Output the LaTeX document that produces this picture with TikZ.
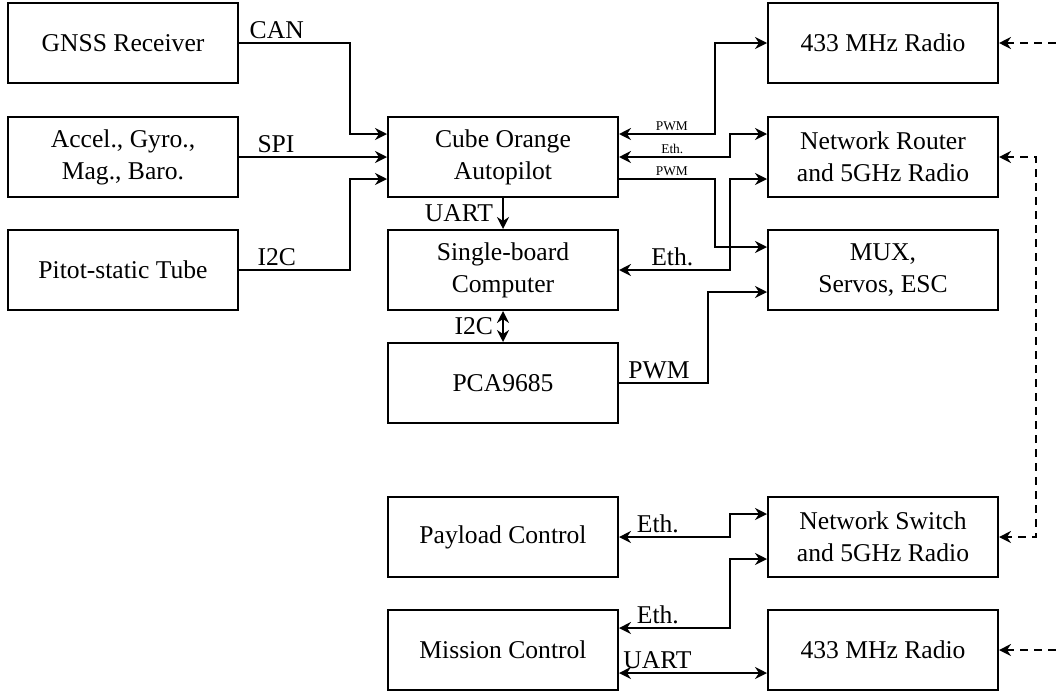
\documentclass[tikz,border=0pt]{standalone}
\usepackage{fontspec}
\setmainfont{Liberation Serif}
\usetikzlibrary{arrows.meta}
\begin{document}
\begin{tikzpicture}[x=0.5pt,y=-0.5pt,
  box/.style={draw,line width=1pt,minimum width=115pt,minimum height=40pt,align=center,inner sep=0pt,
    font=\fontsize{12.8}{16}\selectfont},
  conn/.style={line width=1pt},
  tipA/.tip={Stealth[length=6pt,width=6pt,inset=2pt]},
  arr/.style={conn,-tipA},
  biarr/.style={conn,tipA-tipA},
  dasharr/.style={conn,dash pattern=on 4pt off 3pt,tipA-},
  dashbi/.style={conn,dash pattern=on 4pt off 3pt,tipA-tipA},
  lbl/.style={font=\fontsize{12.8}{16}\selectfont,inner sep=1.5pt},
  tlbl/.style={font=\fontsize{6.7}{8}\selectfont,inner sep=1pt}]
\useasboundingbox (0,0) rectangle (1058,691);
% boxes
\node[box] (gnss) at (123,43) {GNSS Receiver};
\node[box] (imu) at (123,157) {Accel., Gyro.,\\Mag., Baro.};
\node[box] (pitot) at (123,270) {Pitot-static Tube};
\node[box] (cube) at (503,157) {Cube Orange\\Autopilot};
\node[box] (sbc) at (503,270) {Single-board\\Computer};
\node[box] (pca) at (503,383) {PCA9685};
\node[box] (radio1) at (883,43) {433 MHz Radio};
\node[box] (router) at (883,157) {Network Router\\and 5GHz Radio};
\node[box] (mux) at (883,270) {MUX,\\Servos, ESC};
\node[box] (payload) at (503,537) {Payload Control};
\node[box] (switch) at (883,537) {Network Switch\\and 5GHz Radio};
\node[box] (mission) at (503,650) {Mission Control};
\node[box] (radio2) at (883,650) {433 MHz Radio};
% left inputs
\draw[arr] (gnss.east) -- node[lbl,above,pos=0.34]{CAN} (350,43) |- ([yshift=11.5pt]cube.west);
\draw[arr] (imu.east) -- node[lbl,above,pos=0.25]{SPI} (cube.west);
\draw[arr] (pitot.east) -- node[lbl,above,pos=0.34]{I2C} (350,270) |- ([yshift=-11pt]cube.west);
% vertical
\draw[arr] (cube.south) -- node[lbl,left=3pt]{UART} (sbc.north);
\draw[biarr] (sbc.south) -- node[lbl,left=3pt]{I2C} (pca.north);
% right of cube
\draw[biarr] ([yshift=11.5pt]cube.east) -- node[tlbl,above,pos=0.55]{PWM} (715,134) |- (radio1.west);
\draw[biarr] (cube.east) -- node[tlbl,above,pos=0.48]{Eth.} (730,157) |- ([yshift=11.5pt]router.west);
\draw[arr] ([yshift=-11pt]cube.east) -- node[tlbl,above,pos=0.55]{PWM} (715,179) |- ([yshift=11.5pt]mux.west);
\draw[biarr] ([yshift=-11pt]router.west) -- (730,179) -- (730,270) -- node[lbl,above,pos=0.52]{Eth.} (sbc.east);
\draw[arr] (pca.east) -- node[lbl,above,pos=0.45]{PWM} (708,383) |- ([yshift=-11pt]mux.west);
% bottom
\draw[biarr] (payload.east) -- node[lbl,above,pos=0.35]{Eth.} (730,537) |- ([yshift=11.5pt]switch.west);
\draw[biarr] ([yshift=11pt]mission.east) -- node[lbl,above,pos=0.35]{Eth.} (730,628) |- ([yshift=-11pt]switch.west);
\draw[biarr] ([yshift=-11.5pt]mission.east) -- node[lbl,above,pos=0.26]{UART} ([yshift=-11.5pt]radio2.west);
% dashed
\coordinate (r1in) at (1058,43);
\coordinate (r2in) at (1058,650);
\draw[dasharr] (radio1.east) -- (r1in);
\draw[dashbi] (router.east) -- (1036,157) -- (1036,537) -- (switch.east);
\draw[dasharr] (radio2.east) -- (r2in);
\end{tikzpicture}
\end{document}
